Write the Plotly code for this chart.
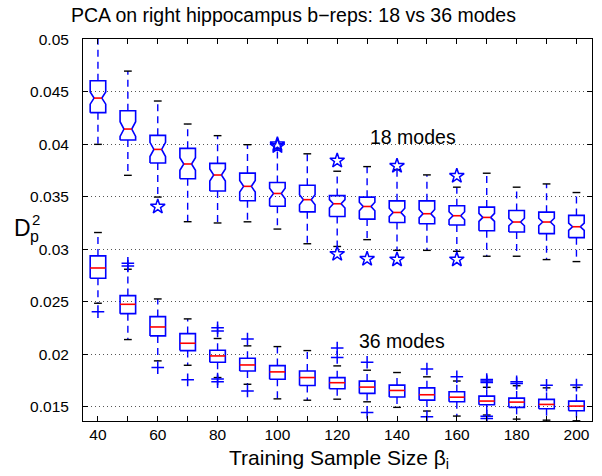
import plotly.graph_objects as go

# ---------------- data ----------------
sizes = [40, 50, 60, 70, 80, 90, 100, 110, 120, 130, 140, 150, 160, 170, 180, 190, 200]
tick_vals = [40, 60, 80, 100, 120, 140, 160, 180, 200]
tick_labels = ["40", "60", "80", "100", "120", "140", "160", "180", "200"]
minor_vals = [50, 70, 90, 110, 130, 150, 170, 190]

# 18 modes (notched boxes, star outliers)
q1_18 = [0.04302, 0.04041, 0.03822, 0.03673, 0.03556, 0.03463, 0.03410, 0.03357, 0.03312,
         0.03288, 0.03256, 0.03244, 0.03231, 0.03177, 0.03165, 0.03149, 0.03111]
med_18 = [0.04441, 0.04146, 0.03952, 0.03813, 0.03708, 0.03600, 0.03532, 0.03473, 0.03434,
          0.03408, 0.03351, 0.03339, 0.03320, 0.03304, 0.03260, 0.03260, 0.03215]
q3_18 = [0.04606, 0.04321, 0.04086, 0.03962, 0.03819, 0.03726, 0.03637, 0.03610, 0.03512,
         0.03497, 0.03462, 0.03462, 0.03415, 0.03402, 0.03370, 0.03354, 0.03323]
lo_18 = [0.04000, 0.03705, 0.03498, 0.03263, 0.03251, 0.03262, 0.03193, 0.03053, 0.03027,
         0.03092, 0.02990, 0.02990, 0.02981, 0.02934, 0.02934, 0.02902, 0.02883]
hi_18 = [0.05150, 0.04698, 0.04413, 0.04194, 0.04083, 0.03997, 0.03960, 0.03910, 0.03744,
         0.03788, 0.03760, 0.03709, 0.03592, 0.03725, 0.03592, 0.03623, 0.03541]
notch_18 = [0.00058, 0.00070, 0.00068, 0.00060, 0.00058, 0.00055, 0.00050, 0.00048, 0.00040,
            0.00040, 0.00040, 0.00040, 0.00038, 0.00038, 0.00036, 0.00036, 0.00035]
out18_x = [60, 100, 100, 120, 120, 130, 140, 140, 160, 160]
out18_y = [0.03406, 0.04000, 0.03982, 0.03845, 0.02955, 0.02908, 0.03794, 0.02902, 0.03699, 0.02902]

# 36 modes (plain boxes, plus outliers)
q1_36 = [0.02724, 0.02387, 0.02175, 0.02035, 0.01924, 0.01841, 0.01762, 0.01702, 0.01672,
         0.01627, 0.01592, 0.01563, 0.01548, 0.01519, 0.01494, 0.01481, 0.01462]
med_36 = [0.02822, 0.02476, 0.02260, 0.02105, 0.01984, 0.01898, 0.01832, 0.01778, 0.01729,
          0.01687, 0.01655, 0.01614, 0.01591, 0.01554, 0.01544, 0.01522, 0.01506]
q3_36 = [0.02937, 0.02559, 0.02359, 0.02197, 0.02038, 0.01962, 0.01892, 0.01841, 0.01777,
         0.01744, 0.01706, 0.01680, 0.01643, 0.01601, 0.01582, 0.01570, 0.01553]
lo_36 = [0.02486, 0.02140, 0.01937, 0.01895, 0.01778, 0.01714, 0.01575, 0.01562, 0.01572,
         0.01547, 0.01494, 0.01459, 0.01411, 0.01421, 0.01382, 0.01372, 0.01366]
hi_36 = [0.03160, 0.02810, 0.02527, 0.02337, 0.02150, 0.02080, 0.02073, 0.02035, 0.01889,
         0.01848, 0.01826, 0.01785, 0.01745, 0.01685, 0.01700, 0.01680, 0.01684]
out36_x = [40, 50, 50, 60, 70, 80, 80, 80, 80, 90, 90, 120, 120, 130, 130, 150, 150,
           160, 170, 170, 170, 170, 170, 180, 180, 190, 200]
out36_y = [0.02406, 0.02867, 0.02841, 0.01873, 0.01756, 0.02253, 0.02222, 0.01764, 0.01739,
           0.02146, 0.01651, 0.02060, 0.01970, 0.01924, 0.01446, 0.01860, 0.01404,
           0.01786, 0.01760, 0.01745, 0.01730, 0.01410, 0.01388, 0.01737, 0.01722, 0.01704, 0.01706]

title_text = "PCA on right hippocampus b\u2212reps: 18 vs 36 modes"
xlabel_text = "Training Sample Size \u03b2<sub>i</sub>"
label_18 = "18 modes"
label_36 = "36 modes"

# ---------------- styling ----------------
BLUE = "#0000FF"
RED = "#FF0000"
BLACK = "#000000"
FONT = "Liberation Sans, Arial, Helvetica, sans-serif"
HW = 2.6      # half box width (x units)
CAPW = 1.3    # half cap width
NIN = 0.5     # notch inner width ratio

# plot area in pixels
L, R, T, B = 83, 592, 39, 421
W_, H_ = 602, 476


def px(x):
    return (x - L) / (R - L)


def py(y):
    return (B - y) / (B - T)


def build(q1, med, q3, lo, hi, notch=None):
    bx, by, mx, my, wx, wy, cx, cy = [], [], [], [], [], [], [], []
    for i, x in enumerate(sizes):
        if notch is not None:
            n = notch[i]
            pts = [(x - HW, q1[i]), (x - HW, med[i] - n), (x - HW * NIN, med[i]), (x - HW, med[i] + n),
                   (x - HW, q3[i]), (x + HW, q3[i]), (x + HW, med[i] + n), (x + HW * NIN, med[i]),
                   (x + HW, med[i] - n), (x + HW, q1[i]), (x - HW, q1[i])]
            mw = HW * NIN
        else:
            pts = [(x - HW, q1[i]), (x - HW, q3[i]), (x + HW, q3[i]), (x + HW, q1[i]), (x - HW, q1[i])]
            mw = HW
        bx += [p[0] for p in pts] + [None]
        by += [p[1] for p in pts] + [None]
        mx += [x - mw, x + mw, None]
        my += [med[i], med[i], None]
        wx += [x, x, None, x, x, None]
        wy += [q3[i], hi[i], None, q1[i], lo[i], None]
        cx += [x - CAPW, x + CAPW, None, x - CAPW, x + CAPW, None]
        cy += [hi[i], hi[i], None, lo[i], lo[i], None]
    return (bx, by), (mx, my), (wx, wy), (cx, cy)


fig = go.Figure()

for data, notch, sym, msize, ox, oy in [
    ((q1_18, med_18, q3_18, lo_18, hi_18), notch_18, "star-open", 11, out18_x, out18_y),
    ((q1_36, med_36, q3_36, lo_36, hi_36), None, "cross-thin-open", 9, out36_x, out36_y),
]:
    (bx, by), (mx, my), (wx, wy), (cx, cy) = build(*data, notch=notch)
    fig.add_trace(go.Scatter(x=wx, y=wy, mode="lines", hoverinfo="skip",
                             line=dict(color=BLUE, width=1.4, dash="7px,5px")))
    fig.add_trace(go.Scatter(x=bx, y=by, mode="lines", hoverinfo="skip",
                             line=dict(color=BLUE, width=1.6)))
    fig.add_trace(go.Scatter(x=mx, y=my, mode="lines", hoverinfo="skip",
                             line=dict(color=RED, width=1.6)))
    fig.add_trace(go.Scatter(x=cx, y=cy, mode="lines", hoverinfo="skip",
                             line=dict(color=BLACK, width=1.4)))
    fig.add_trace(go.Scatter(x=ox, y=oy, mode="markers", hoverinfo="skip",
                             marker=dict(symbol=sym, size=msize, color=BLUE,
                                         line=dict(color=BLUE, width=1.5))))

yt_vals = [0.015, 0.02, 0.025, 0.03, 0.035, 0.04, 0.045, 0.05]
yt_text = ["0.015", "0.02", "0.025", "0.03", "0.035", "0.04", "0.045", "0.05"]

fig.update_layout(
    width=W_, height=H_,
    margin=dict(l=L, r=W_ - R, t=T, b=H_ - B, pad=0),
    paper_bgcolor="white", plot_bgcolor="white",
    showlegend=False,
    font=dict(family=FONT, size=15.5, color=BLACK),
    xaxis=dict(range=[35, 205.2], tickvals=tick_vals, ticktext=tick_labels,
               ticks="inside", ticklen=5, tickcolor=BLACK, tickwidth=1,
               minor=dict(tickvals=minor_vals, ticks="inside", ticklen=5,
                          tickcolor=BLACK, tickwidth=1, showgrid=False),
               showline=True, linecolor=BLACK, linewidth=1, mirror="allticks",
               showgrid=False, zeroline=False, ticklabelstandoff=-1,
               tickfont=dict(family=FONT, size=15.5, color=BLACK)),
    yaxis=dict(range=[0.01364, 0.05004], tickvals=yt_vals, ticktext=yt_text,
               ticks="inside", ticklen=5, tickcolor=BLACK, tickwidth=1,
               showline=True, linecolor=BLACK, linewidth=1, mirror="allticks",
               showgrid=True, gridcolor="#555555", gridwidth=1, griddash="1px,3px",
               zeroline=False, ticklabelstandoff=10,
               tickfont=dict(family=FONT, size=15.5, color=BLACK)),
)

ann = []
ann.append(dict(text=title_text, xref="paper", yref="paper", x=px(293), y=py(15.5),
                xanchor="center", yanchor="middle", showarrow=False,
                font=dict(family=FONT, size=19.5, color=BLACK)))
ann.append(dict(text=xlabel_text, xref="paper", yref="paper", x=px(339), y=py(459),
                xanchor="center", yanchor="middle", showarrow=False,
                font=dict(family=FONT, size=21, color=BLACK)))
ann.append(dict(text="D", xref="paper", yref="paper", x=px(22.3), y=py(228),
                xanchor="center", yanchor="middle", showarrow=False,
                font=dict(family=FONT, size=23, color=BLACK)))
ann.append(dict(text="2", xref="paper", yref="paper", x=px(35.5), y=py(219),
                xanchor="center", yanchor="middle", showarrow=False,
                font=dict(family=FONT, size=15, color=BLACK)))
ann.append(dict(text="p", xref="paper", yref="paper", x=px(34.5), y=py(236),
                xanchor="center", yanchor="middle", showarrow=False,
                font=dict(family=FONT, size=16, color=BLACK)))
ann.append(dict(text=label_18, xref="x", yref="y", x=145.4, y=0.04072,
                xanchor="center", yanchor="middle", showarrow=False,
                font=dict(family=FONT, size=19.5, color=BLACK)))
ann.append(dict(text=label_36, xref="x", yref="y", x=141.5, y=0.02130,
                xanchor="center", yanchor="middle", showarrow=False,
                font=dict(family=FONT, size=19.5, color=BLACK)))
fig.update_layout(annotations=ann)

fig.write_html("out.html")
